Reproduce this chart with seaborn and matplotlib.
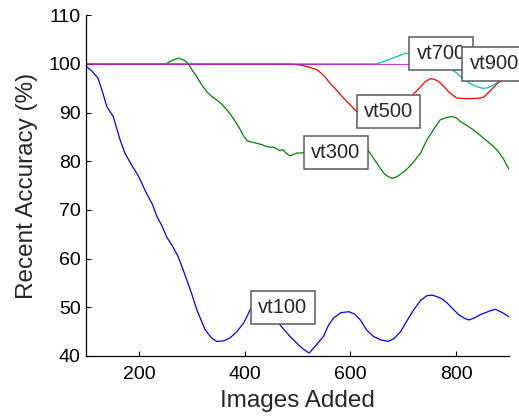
import numpy as np
import pandas as pd
import matplotlib
matplotlib.use("Agg")
import matplotlib.pyplot as plt
import seaborn as sns

# Recent accuracy traces for each vocabulary-tree run
runs = ["vt100", "vt300", "vt500", "vt700", "vt900"]

vt100_x = [100, 110, 122, 130, 139, 151, 164, 173, 186, 199, 214, 225, 234, 243, 252, 263,
           274, 285, 297, 310, 325, 337, 347, 360, 372, 385, 398, 406, 413, 422, 430, 440,
           450, 461, 473, 486, 500, 511, 522, 535, 549, 558, 568, 582, 597, 608, 619, 631,
           644, 658, 672, 683, 695, 707, 720, 733, 745, 755, 764, 774, 783, 795, 805, 815,
           824, 832, 840, 848, 856, 865, 875, 888, 900]
vt100_y = [99.5, 98.6, 97.1, 94.5, 91.2, 89.2, 84.4, 81.7, 79.2, 76.9, 73.4, 71.2, 68.6, 66.8,
           64.5, 62.6, 60.4, 57.2, 53.6, 49.3, 45.4, 43.7, 43.0, 43.1, 43.7, 45.0, 46.8, 48.5,
           50.2, 51.2, 51.4, 50.6, 48.9, 47.1, 45.6, 44.0, 42.5, 41.4, 40.6, 42.2, 44.0, 46.2,
           47.8, 48.9, 49.1, 48.6, 47.4, 45.3, 44.0, 43.3, 43.0, 43.6, 45.0, 47.2, 49.5, 51.4,
           52.4, 52.5, 52.2, 51.7, 50.9, 49.6, 48.5, 47.8, 47.4, 47.7, 48.1, 48.6, 48.9, 49.3,
           49.6, 48.9, 48.1]

vt300_x = [100, 250, 260, 274, 285, 293, 300, 309, 318, 328, 338, 347, 357, 366, 374, 382,
           390, 398, 405, 412, 423, 433, 442, 450, 455, 460, 466, 472, 479, 486, 492, 499,
           505, 512, 530, 550, 570, 590, 610, 624, 634, 644, 654, 663, 671, 679, 688, 698,
           709, 720, 733, 745, 758, 770, 782, 793, 801, 808, 820, 834, 843, 853, 865, 878,
           890, 900]
vt300_y = [100, 100, 100.6, 101.2, 100.8, 100.1, 98.8, 97.4, 95.8, 94.3, 93.3, 92.6, 91.7,
           90.6, 89.5, 88.2, 86.8, 85.2, 84.2, 84.0, 83.7, 83.4, 83.0, 82.9, 82.9, 82.6, 82.2,
           82.4, 81.6, 81.1, 81.4, 81.7, 81.7, 81.8, 82.0, 82.5, 83.0, 83.4, 83.6, 83.4, 82.2,
           80.6, 79.0, 77.6, 76.9, 76.5, 76.8, 77.6, 78.6, 79.9, 81.7, 84.4, 86.6, 88.5, 89.0,
           89.2, 88.9, 88.2, 87.4, 86.4, 85.6, 84.7, 83.6, 82.3, 80.5, 78.4]

vt500_x = [100, 483, 495, 505, 520, 537, 550, 562, 575, 587, 600, 612, 630, 650, 670, 690,
           705, 714, 723, 733, 742, 752, 760, 767, 777, 786, 795, 802, 815, 830, 846, 853,
           862, 872, 880, 888, 900]
vt500_y = [100, 100, 99.9, 99.8, 99.4, 98.8, 97.6, 96.0, 94.5, 93.0, 91.6, 90.2, 89.0, 88.6,
           89.3, 91.0, 92.5, 93.2, 94.2, 95.3, 96.4, 97.0, 96.8, 96.4, 95.4, 94.3, 93.5, 93.0,
           92.9, 92.9, 93.0, 93.2, 94.2, 95.3, 96.1, 96.7, 97.0]

vt700_x = [100, 650, 665, 680, 695, 704, 712, 725, 740, 760, 780, 793, 803, 812, 820, 827,
           838, 850, 860, 872, 884, 900]
vt700_y = [100, 100, 100.6, 101.2, 101.8, 102.2, 102.2, 102.0, 101.3, 100.3, 99.4, 98.8,
           98.0, 97.1, 96.5, 96.0, 95.4, 95.0, 95.1, 95.7, 96.7, 97.0]

vt900_x = [100, 300, 500, 700, 900]
vt900_y = [100, 100, 100, 100, 100]

# Where each run's name tag sits along the x axis
tag_x = [412, 512, 612, 712, 812]

x_ticks = [200, 400, 600, 800]
y_ticks = [40, 50, 60, 70, 80, 90, 100, 110]

series = {
    "vt100": (vt100_x, vt100_y),
    "vt300": (vt300_x, vt300_y),
    "vt500": (vt500_x, vt500_y),
    "vt700": (vt700_x, vt700_y),
    "vt900": (vt900_x, vt900_y),
}
frames = [pd.DataFrame({"images": xs, "accuracy": ys, "run": name})
          for name, (xs, ys) in series.items()]
df = pd.concat(frames, ignore_index=True)

palette = {
    "vt100": "#0000ff",
    "vt300": "#008000",
    "vt500": "#ff0000",
    "vt700": "#00bfbf",
    "vt900": "#bf00bf",
}

sns.set_style("ticks")
plt.rcParams["font.family"] = ["Liberation Sans", "DejaVu Sans"]
plt.rcParams["xtick.direction"] = "in"
plt.rcParams["ytick.direction"] = "in"

fig = plt.figure(figsize=(5.19, 4.17), dpi=100)
ax = fig.add_axes([0.1663, 0.1463, 0.814, 0.817])

sns.lineplot(data=df[df["run"] != "vt900"], x="images", y="accuracy", hue="run",
             hue_order=runs[:-1], palette=palette, estimator=None, sort=True,
             legend=False, linewidth=0.9, ax=ax)
# The last run is drawn semi-transparent so the overlapping 100% plateau blends
sns.lineplot(x=vt900_x, y=vt900_y, color=palette["vt900"], alpha=0.75,
             linewidth=0.9, ax=ax)

ax.set_xlim(100, 900)
ax.set_ylim(40, 110)
ax.set_xticks(x_ticks)
ax.set_yticks(y_ticks)
ax.tick_params(axis="both", labelsize=14, length=3.5, width=0.8, colors="black")
ax.tick_params(axis="x", pad=7)
ax.tick_params(axis="y", pad=4)
for side in ("top", "right"):
    ax.spines[side].set_visible(False)
for side in ("left", "bottom"):
    ax.spines[side].set_linewidth(0.9)
    ax.spines[side].set_color("black")

ax.set_xlabel("Images Added", fontsize=17.5, labelpad=5)
ax.set_ylabel("Recent Accuracy (%)", fontsize=17.5, labelpad=7)

# Boxed name tag on each curve
pad = 0.36
fs = 14.5
for i, name in enumerate(runs):
    xs, ys = series[name]
    tx = tag_x[i]
    ty = float(np.interp(tx, xs, ys))
    ax.annotate(name, xy=(tx, ty), xytext=(pad * fs, 0), textcoords="offset points",
                ha="left", va="center", fontsize=fs, zorder=10 + i,
                bbox=dict(boxstyle=f"square,pad={pad}", facecolor="white",
                          edgecolor="#5a5a5a", linewidth=1.1))

fig.savefig("out.png", dpi=100)
